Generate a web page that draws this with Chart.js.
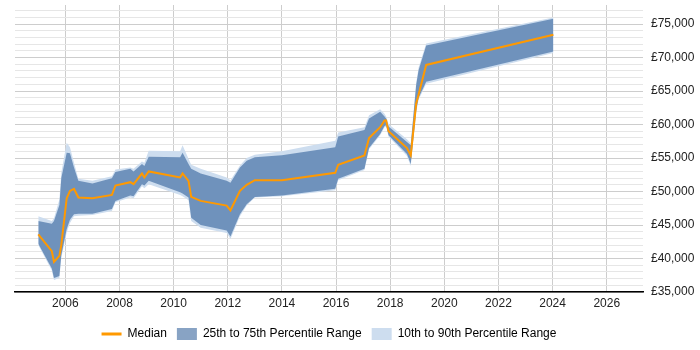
<!DOCTYPE html>
<html>
<head>
<meta charset="utf-8">
<script src="https://cdn.jsdelivr.net/npm/chart.js@4.4.1/dist/chart.umd.min.js"></script>
<style>
  html, body { margin: 0; padding: 0; background: #fff; }
  #wrap { width: 700px; height: 350px; }
</style>
</head>
<body>
<div id="wrap"><canvas id="salaryChart" width="700" height="350"></canvas></div>
<script>
// dates as decimal years
const dates = [2005.00, 2005.50, 2005.58, 2005.78, 2005.85, 2006.05, 2006.17, 2006.32, 2006.48, 2007.00,
  2007.72, 2007.85, 2008.40, 2008.52, 2008.83, 2008.92, 2009.08, 2010.24, 2010.33, 2010.55,
  2010.65, 2011.00, 2011.96, 2012.10, 2012.45, 2012.70, 2013.00, 2014.00, 2015.97, 2016.08,
  2017.05, 2017.22, 2017.63, 2017.79, 2017.85, 2017.94, 2018.62, 2018.76, 2018.96, 2019.05,
  2019.33, 2024.03];

const median = [43600, 41100, 39500, 40400, 42000, 49000, 50100, 50400, 49100, 49000,
  49500, 50900, 51400, 51100, 52700, 52100, 53000, 52100, 52700, 51600,
  49200, 48600, 47900, 47200, 50100, 51000, 51700, 51700, 52800, 54000,
  55400, 58000, 59600, 60600, 60600, 59000, 56500, 55400, 63100, 64500,
  68900, 73400];

const p75 = [45600, 45200, 45600, 48000, 52000, 55800, 55700, 53600, 51600, 51200,
  52000, 52900, 53400, 53000, 54100, 53800, 55200, 55100, 55800, 54100,
  53400, 52700, 51600, 51300, 53600, 54600, 55100, 55400, 56600, 58200,
  59200, 60900, 61900, 61200, 60900, 59700, 57400, 56900, 65900, 68100,
  71800, 75800];

const p25 = [42200, 38500, 37100, 37400, 40500, 44400, 45800, 46600, 46700, 46700,
  47400, 48600, 49400, 49300, 51100, 50900, 51600, 49900, 49700, 49100,
  46100, 45000, 44200, 43300, 46600, 48100, 49200, 49400, 50400, 51900,
  53400, 56500, 58600, 59800, 59900, 58400, 55600, 54100, 62100, 64000,
  66400, 70900];

const p90 = [46300, 45600, 46000, 48800, 52800, 57300, 56600, 54300, 51900, 51600,
  52300, 53300, 53600, 53400, 54500, 54300, 56100, 56000, 56900, 54900,
  54000, 53400, 52100, 51700, 53900, 55000, 55500, 56000, 57600, 58800,
  59600, 61400, 62300, 61600, 61200, 60100, 57800, 57200, 66200, 68500,
  72100, 76000];

const p10 = [42000, 38200, 36800, 37100, 40100, 43900, 45300, 46300, 46400, 46500,
  47100, 48400, 49100, 49000, 50800, 50500, 51100, 49500, 49300, 48700,
  45600, 44600, 43800, 42900, 46300, 47900, 49100, 49300, 50200, 51700,
  53200, 56300, 58400, 59600, 59700, 58200, 55300, 53800, 61800, 63700,
  66100, 70700];

const yearTicks = [2006, 2008, 2010, 2012, 2014, 2016, 2018, 2020, 2022, 2024, 2026];
const moneyTicks = [35000, 40000, 45000, 50000, 55000, 60000, 65000, 70000, 75000];

const ORANGE = "rgb(255,153,0)";
const DARK = "rgba(18,72,138,0.5)";
const LIGHT = "rgb(205,221,239)";
const FONT = { family: "'Liberation Sans', Arial, sans-serif", size: 12 };

const pts = (arr) => arr.map((v, i) => ({ x: dates[i], y: v }));

const bandLine = {
  borderWidth: 0,
  pointRadius: 0,
  pointHoverRadius: 0,
  tension: 0,
};

// minor gridlines every £1,000 between the labelled ones
function yGridTicks() {
  const out = [];
  for (let v = 35000; v <= 77000; v += 1000) out.push({ value: v });
  return out;
}

const ctx = document.getElementById("salaryChart").getContext("2d");
const chart = new Chart(ctx, {
  type: "line",
  data: {
    datasets: [
      { label: "Median", data: pts(median), borderColor: ORANGE, borderWidth: 2,
        pointRadius: 0, tension: 0, fill: false },
      { label: "25th to 75th Percentile Range", data: pts(p75), backgroundColor: DARK,
        fill: "+1", ...bandLine },
      { label: "p25", data: pts(p25), fill: false, ...bandLine },
      { label: "10th to 90th Percentile Range", data: pts(p90), backgroundColor: LIGHT,
        fill: "+1", ...bandLine },
      { label: "p10", data: pts(p10), fill: false, ...bandLine },
    ],
  },
  options: {
    responsive: false,
    animation: false,
    layout: { padding: { left: 15, top: 5, right: 0, bottom: 0 } },
    font: FONT,
    scales: {
      x: {
        type: "linear",
        min: 2004.14,
        max: 2027.34,
        afterBuildTicks: (s) => { s.ticks = yearTicks.map((v) => ({ value: v })); },
        afterFit: (s) => { s.height = 26; s.paddingLeft = 0; s.paddingRight = 0; },
        ticks: {
          autoSkip: false,
          maxRotation: 0,
          padding: 4,
          color: "#222",
          font: FONT,
          callback: (v) => String(v),
        },
        grid: { color: "rgb(205,205,205)", drawTicks: false },
        border: { display: true, color: "#000", width: 1.5 },
      },
      y: {
        position: "right",
        min: 35000,
        max: 77850,
        afterBuildTicks: (s) => { s.ticks = yGridTicks(); },
        afterFit: (s) => { s.width = 57; s.paddingTop = 0; s.paddingBottom = 0; },
        ticks: {
          autoSkip: false,
          padding: 8,
          color: "#222",
          font: FONT,
          callback: (v) => moneyTicks.includes(v) ? "£" + v.toLocaleString("en-GB") : "",
        },
        grid: {
          drawTicks: false,
          color: (c) => {
            const v = c.tick ? c.tick.value : 0;
            return moneyTicks.includes(v) ? "rgb(205,205,205)" : "rgb(230,230,230)";
          },
        },
        border: { display: false },
      },
    },
    plugins: {
      tooltip: { enabled: false },
      legend: {
        position: "bottom",
        fullSize: false,
        labels: {
          usePointStyle: true,
          pointStyleWidth: 20,
          boxHeight: 12,
          padding: 10,
          color: "#222",
          font: FONT,
          generateLabels: () => [
            { text: "Median", fillStyle: ORANGE, strokeStyle: ORANGE, lineWidth: 3,
              pointStyle: "line", datasetIndex: 0 },
            { text: "25th to 75th Percentile Range", fillStyle: DARK, strokeStyle: "rgba(0,0,0,0)",
              lineWidth: 0, pointStyle: "rect", datasetIndex: 1 },
            { text: "10th to 90th Percentile Range", fillStyle: LIGHT, strokeStyle: "rgba(0,0,0,0)",
              lineWidth: 0, pointStyle: "rect", datasetIndex: 3 },
          ],
        },
      },
    },
  },
});
</script>
</body>
</html>
